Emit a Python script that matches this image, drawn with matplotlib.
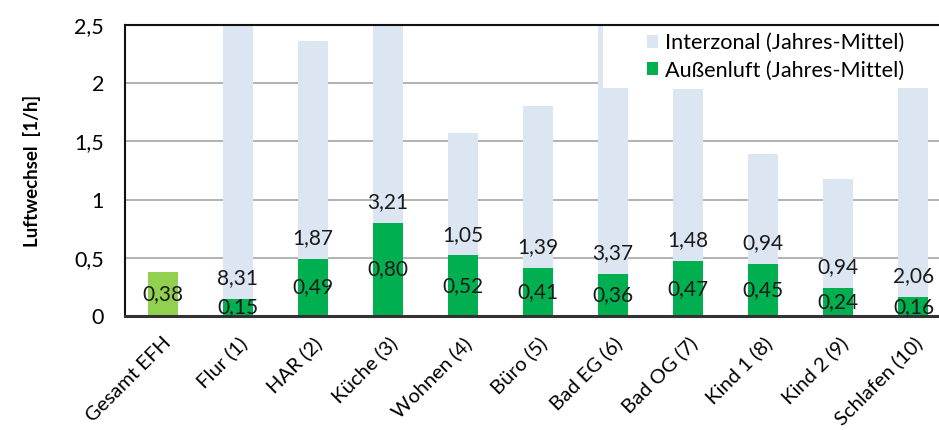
import matplotlib
matplotlib.use("Agg")
import matplotlib.pyplot as plt
from matplotlib.patches import Patch, Rectangle

plt.rcParams['font.family'] = ['Lato', 'DejaVu Sans']

# Zones and annual-mean air change rates [1/h]
categories = ["Gesamt EFH", "Flur (1)", "HAR (2)", "Küche (3)", "Wohnen (4)", "Büro (5)",
              "Bad EG (6)", "Bad OG (7)", "Kind 1 (8)", "Kind 2 (9)", "Schlafen (10)"]
aussenluft = [0.38, 0.15, 0.49, 0.80, 0.52, 0.41, 0.36, 0.47, 0.45, 0.24, 0.16]
interzonal = [None, 8.31, 1.87, 3.21, 1.05, 1.39, 3.37, 1.48, 0.94, 0.94, 2.06]
y_ticks = [0, 0.5, 1, 1.5, 2, 2.5]
y_tick_labels = ["0", "0,5", "1", "1,5", "2", "2,5"]

c_inter = "#DCE6F2"
c_aussen = "#00B050"
c_total = "#92D050"

W, H = 939, 430
fig = plt.figure(figsize=(W / 100, H / 100), dpi=100)
left, right, top, bottom = 125, 951, 25, 316
ax = fig.add_axes([left / W, 1 - bottom / H, (right - left) / W, (bottom - top) / H])

x = list(range(len(categories)))
bw = 0.4

def fmt(v):
    return f"{v:.2f}".replace(".", ",")

for i in x:
    g = aussenluft[i]
    col = c_total if i == 0 else c_aussen
    ax.bar(i, g, width=bw, color=col, zorder=2)
    ax.text(i, g / 2, fmt(g), ha="center", va="center", fontsize=15, color="#1a1a1a", zorder=4)
    iz = interzonal[i]
    if iz is not None:
        ax.bar(i, iz, width=bw, bottom=g, color=c_inter, zorder=2)
        ax.annotate(fmt(iz), (i, g), xytext=(0, 15), textcoords="offset points",
                    ha="center", va="center", fontsize=15, color="#1a1a1a", zorder=4)

ax.set_xlim(-0.5, len(categories) - 0.5)
ax.set_ylim(0, 2.5)
ax.set_yticks(y_ticks)
ax.set_yticklabels(y_tick_labels, fontsize=15.5)
ax.set_xticks(x)
ax.set_xticklabels(categories, rotation=45, ha="right", rotation_mode="anchor", fontsize=14.6)
ax.tick_params(axis="both", length=0)
ax.tick_params(axis="y", pad=15)
ax.tick_params(axis="x", pad=13)
ax.yaxis.grid(True, color="#A6A6A6", linewidth=1.2, zorder=0)
ax.set_axisbelow(True)
for s in ["top", "left"]:
    ax.spines[s].set_linewidth(1.5)
    ax.spines[s].set_color("#111111")
ax.spines["bottom"].set_linewidth(2.2)
ax.spines["bottom"].set_color("#333333")
ax.spines["right"].set_visible(False)

ax.set_ylabel("Luftwechsel  [1/h]", fontsize=13.5, fontweight="bold", labelpad=24)

# White legend area in the upper right of the plot
aw, ah = right - left, bottom - top
ax.add_patch(Rectangle(((603 - left) / aw, (bottom - 88) / ah), 1, (88 - top) / ah,
                       transform=ax.transAxes, facecolor="white", edgecolor="none",
                       zorder=2.2, clip_on=False))

handles = [Patch(facecolor=c_inter, edgecolor="none", label="Interzonal (Jahres-Mittel)"),
           Patch(facecolor=c_aussen, edgecolor="none", label="Außenluft (Jahres-Mittel)")]
leg = ax.legend(handles=handles, loc="upper left",
                bbox_to_anchor=((647 - left) / aw, (bottom - 33) / ah),
                frameon=False, fontsize=15.6, handlelength=0.51, handleheight=0.51,
                handletextpad=0.32, borderaxespad=0, labelspacing=0.34, borderpad=0)
leg.set_zorder(5)

fig.savefig("out.png", dpi=100)
